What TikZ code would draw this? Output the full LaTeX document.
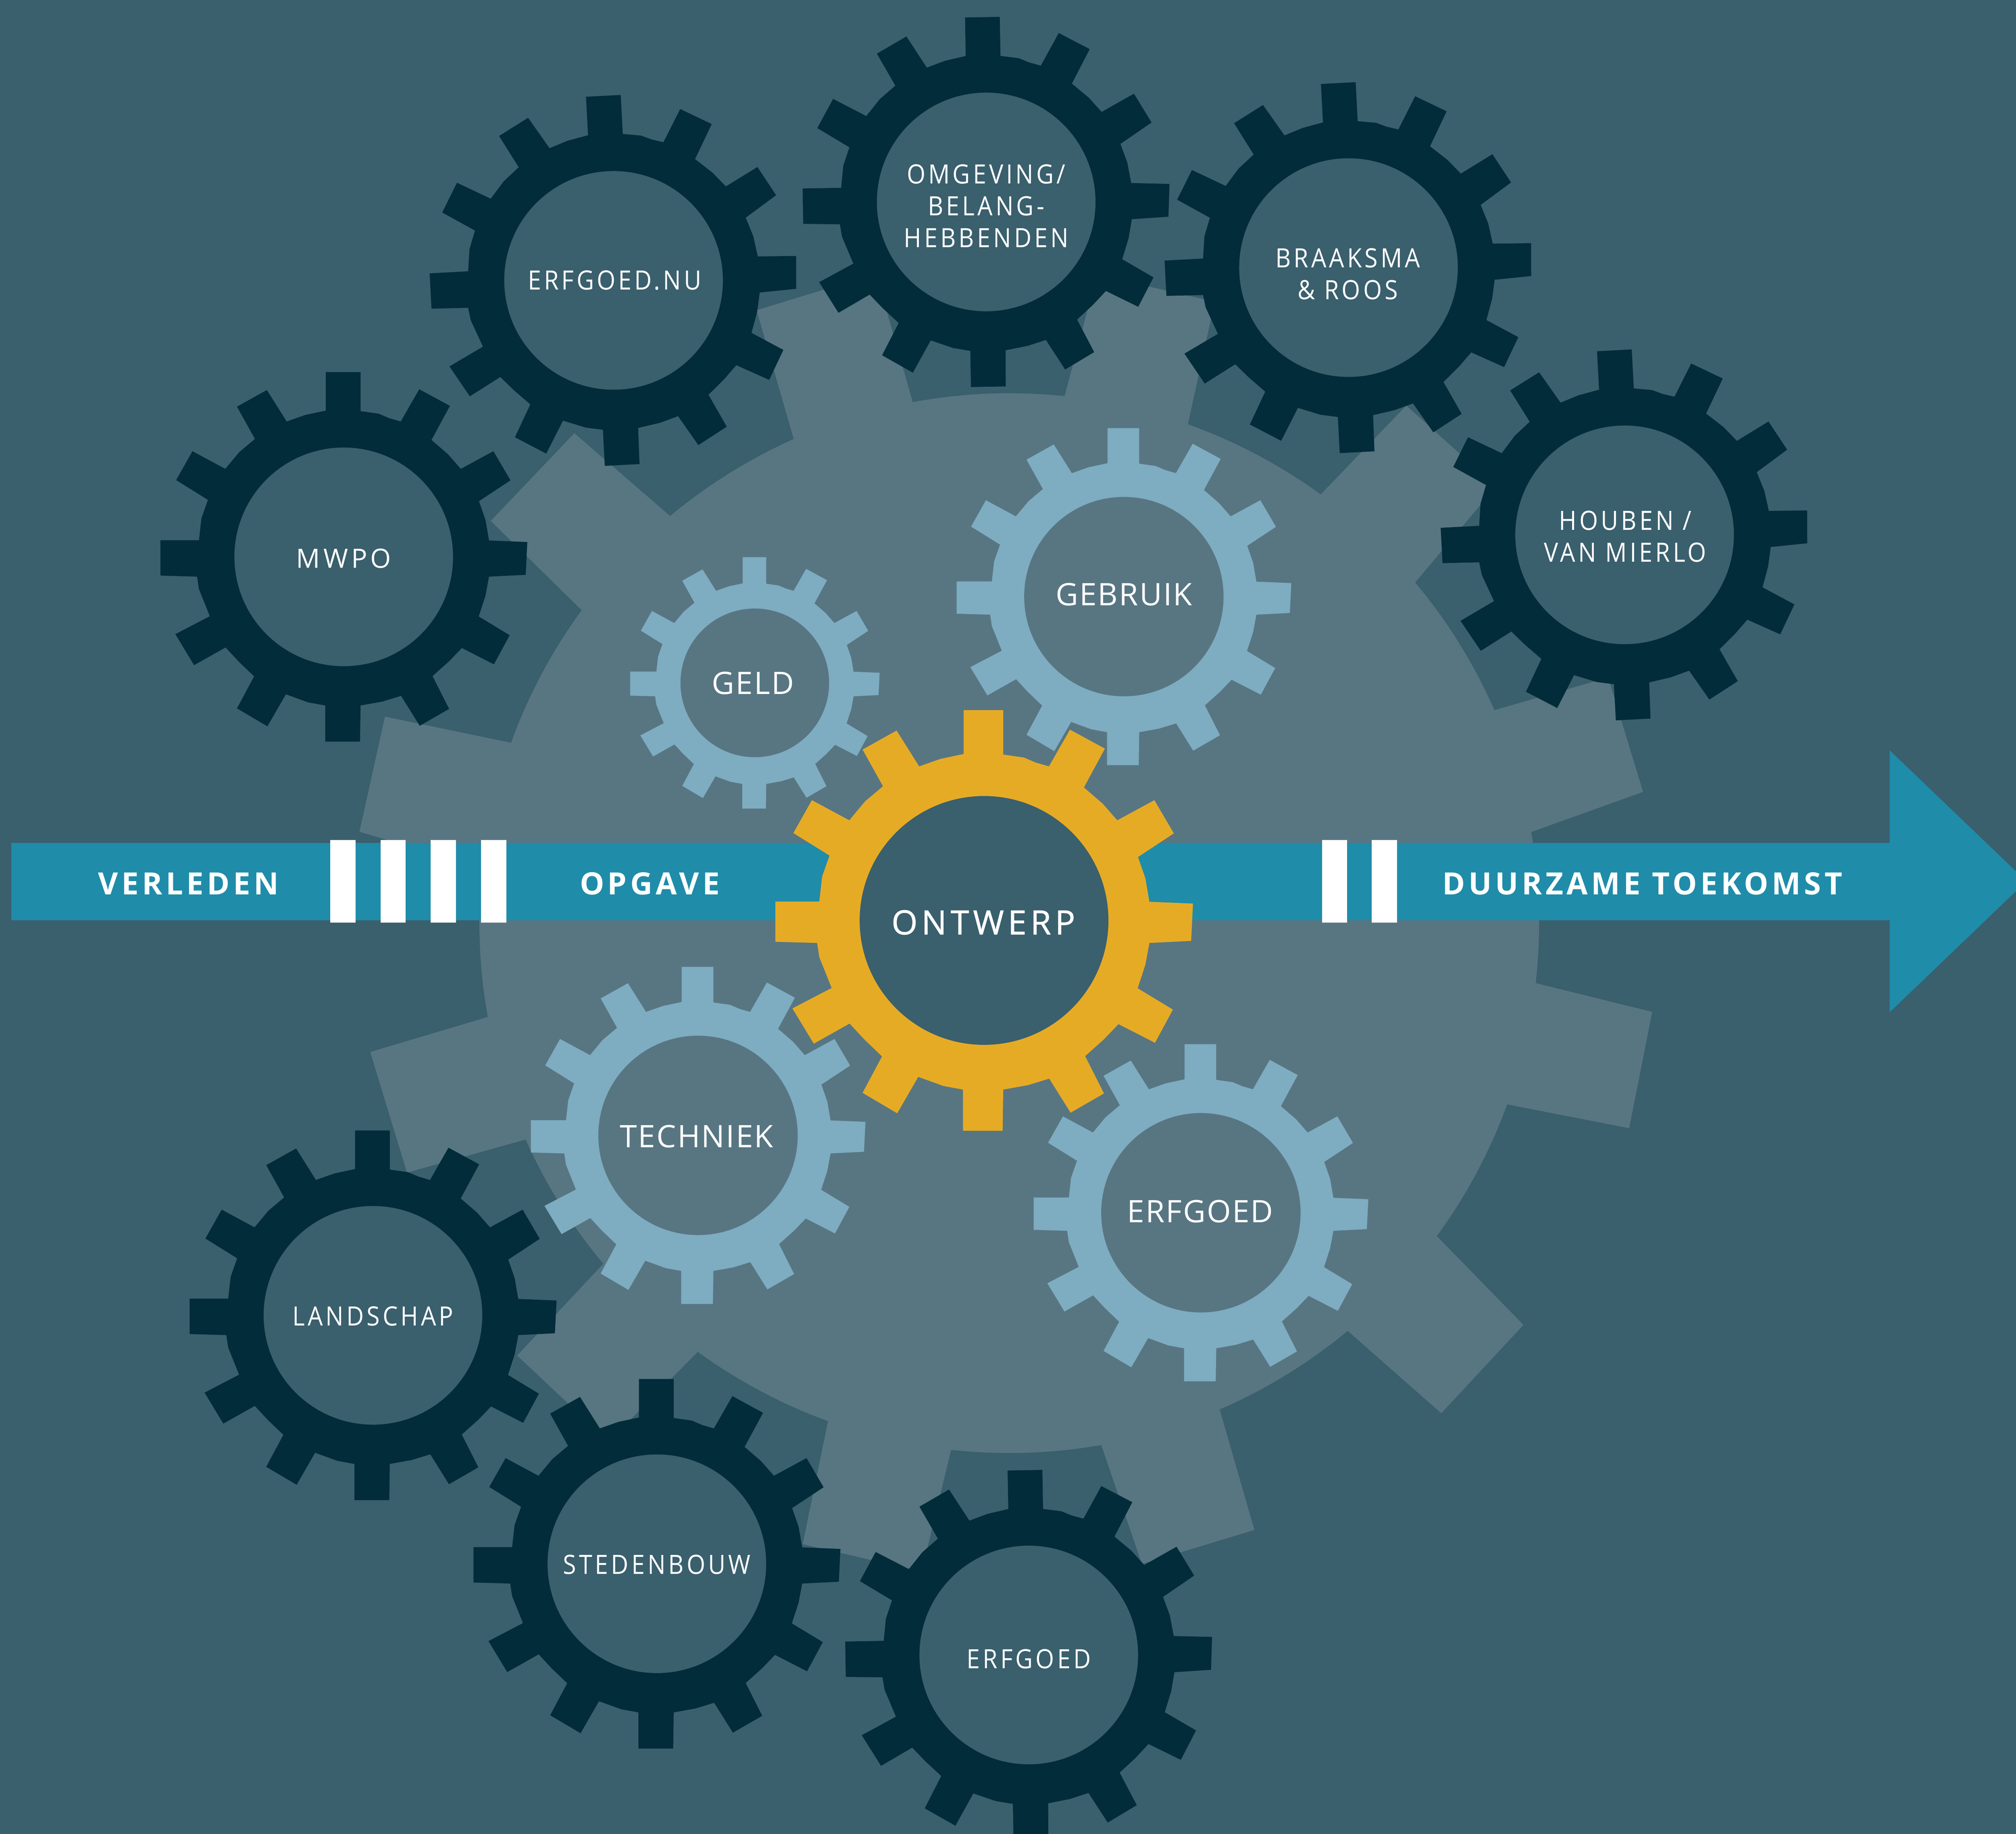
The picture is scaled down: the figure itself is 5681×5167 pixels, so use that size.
\documentclass[tikz,border=0pt]{standalone}
\usepackage{fontspec}
\newfontfamily\lblfont[LetterSpace=10.6,FakeStretch=0.9]{Open Sans}
\newfontfamily\mwpofont[LetterSpace=12]{Open Sans}
\newfontfamily\lightfont[LetterSpace=4]{Open Sans}
\newfontfamily\midfont[LetterSpace=12,FakeBold=1.2]{Open Sans}
\newfontfamily\bandfont[LetterSpace=11]{Open Sans}
\definecolor{bgc}{HTML}{3A5F6D}
\definecolor{bigc}{HTML}{587682}
\definecolor{darkc}{HTML}{032C3B}
\definecolor{lightc}{HTML}{7EACC1}
\definecolor{orangec}{HTML}{E6AB25}
\definecolor{bandc}{HTML}{1F8CA9}
\newcommand{\gearpoly}{(677,214)--(677,66)--(805,66)--(805,216)--(872,226)--(910,243)--(953,256)--(1021,132)--(1134,196)--(1066,327)--(1127,382)--(1174,438)--(1294,370)--(1357,482)--(1241,562)--(1265,634)--(1278,713)--(1419,719)--(1413,845)--(1278,852)--(1265,925)--(1240,1005)--(1354,1077)--(1296,1189)--(1178,1126)--(1130,1178)--(1070,1234)--(1131,1360)--(1023,1425)--(954,1310)--(885,1332)--(805,1347)--(803,1486)--(675,1486)--(675,1347)--(612,1335)--(530,1304)--(462,1427)--(350,1358)--(413,1235)--(355,1177)--(308,1124)--(192,1192)--(123,1073)--(250,1004)--(210,900)--(203,852)--(68,848)--(68,712)--(210,712)--(219,628)--(243,557)--(126,481)--(186,370)--(307,438)--(358,374)--(416,323)--(350,199)--(460,135)--(533,256)--(601,231)--cycle}
% centre x, centre y, size, rotation, gear colour, hole colour
\newcommand{\gearat}[6]{%
  \begin{scope}[shift={(#1,#2)},rotate=#4,scale=#3,xscale=0.7653,yscale=0.7334,shift={(-743,-776)}]
    \fill[#5] \gearpoly;
  \end{scope}
  \fill[#6] (#1,#2) circle[radius=308*#3];
}
\tikzset{
  gearlabel/.style={text=white,align=center,inner sep=0pt},
  outerlabel/.style={gearlabel,font=\lblfont\fontsize{21.3pt}{25.6pt}\selectfont},
  mwpolabel/.style={gearlabel,font=\mwpofont\fontsize{21.3pt}{25.6pt}\selectfont},
  innerlabel/.style={gearlabel,font=\lightfont\fontsize{24.8pt}{30pt}\selectfont},
  mainlabel/.style={gearlabel,font=\midfont\fontsize{26.7pt}{32pt}\selectfont},
  bandlabel/.style={gearlabel,font=\bandfont\bfseries\fontsize{24.6pt}{30pt}\selectfont},
  barstyle/.style={fill=white}
}
\begin{document}
\begin{tikzpicture}[x=0.01cm,y=-0.01cm]
\useasboundingbox (0,0) rectangle (5681,5167);
\clip (0,0) rectangle (5681,5167);
\fill[bgc] (0,0) rectangle (5681,5167);
% large background gear
\begin{scope}[shift={(2844,2601)},x=0.01cm,y=0.01cm]
\fill[bigc] (174:1493) \foreach \ca/\ra/\cb/\rb/\q/\n in {
   172.0/1849/161.7/1853/160.1/143.8,
   142.2/1849/131.6/1846/129.8/114,
   112.4/1868/101.6/1868/100.5/84,
   82.3/1844/71.7/1844/70.3/54,
   52.5/1838/41.9/1843/40/23.7,
   22.3/1824/11.7/1824/9.9/-6.5,
   -7.86/1829/-18.3/1840/-20/-36.2,
   -38/1838.6/-48.6/1841/-50.3/-66.6,
   -68/1844/-78.3/1844/-80/-96.3,
   -97.7/1844/-108.4/1844/-110/-126,
   -127.7/1846/-138.7/1846/-140/-155.9,
   -157.5/1837/-168.6/1837/-169.8/-186} {
   -- (\ca:\ra) -- (\cb:\rb) -- (\q:1493)
   arc[start angle=\q,end angle=\n,radius=1493] } -- cycle;
\end{scope}
% time arrow
\fill[bandc] (32,2375) -- (5325,2375) -- (5325,2114) -- (5710,2483) -- (5325,2852) -- (5325,2593) -- (32,2593) -- cycle;
\foreach \bx in {931,1072,1213.5,1355,3725,3865}
  \fill[barstyle] (\bx,2367) rectangle ++(71.5,233);
\node[bandlabel] (verleden) at (531,2490) {VERLEDEN};
\node[bandlabel] (opgave) at (1831,2490) {OPGAVE};
\node[bandlabel] (toekomst) at (4628.5,2490) {DUURZAME TOEKOMST};
% outer dark gears
\gearat{968.6}{1569}{1}{0}{darkc}{bgc}
\gearat{1729}{790}{1}{3}{darkc}{bgc}
\gearat{2779}{569}{1}{1}{darkc}{bgc}
\gearat{3800}{754}{1}{3}{darkc}{bgc}
\gearat{4578}{1507}{1}{3}{darkc}{bgc}
\gearat{1051}{3706}{1}{0}{darkc}{bgc}
\gearat{1851}{4406}{1}{0}{darkc}{bgc}
\gearat{2899}{4663}{1}{1}{darkc}{bgc}
% inner light gears
\gearat{3167}{1681}{0.912}{0}{lightc}{bigc}
\gearat{2127}{1924}{0.68}{0}{lightc}{bigc}
\gearat{1967}{3199}{0.912}{0}{lightc}{bigc}
\gearat{3384}{3417}{0.912}{0}{lightc}{bigc}
% central gear
\gearat{2773}{2593.4}{1.138}{0}{orangec}{bgc}
% labels
\node[mwpolabel] (mwpo) at (968.6,1574) {MWPO};
\node[outerlabel] (nu) at (1732,790) {ERFGOED.NU};
\node[outerlabel] (omg) at (2779,580) {OMGEVING/\\BELANG-\\HEBBENDEN};
\node[outerlabel] (br) at (3798,772) {BRAAKSMA\\\&~ROOS};
\node[outerlabel] (hv) at (4580,1512) {HOUBEN /\\VAN MIERLO};
\node[outerlabel] (land) at (1051,3709) {LANDSCHAP};
\node[outerlabel] (sted) at (1851,4408) {STEDENBOUW};
\node[outerlabel] (erf2) at (2899,4674) {ERFGOED};
\node[innerlabel] (gebr) at (3167,1675) {GEBRUIK};
\node[innerlabel] (geld) at (2122,1925) {GELD};
\node[innerlabel] (tech) at (1963,3202) {TECHNIEK};
\node[innerlabel] (erf1) at (3382,3413) {ERFGOED};
\node[mainlabel] (ontw) at (2771,2599) {ONTWERP};
\end{tikzpicture}
\end{document}
